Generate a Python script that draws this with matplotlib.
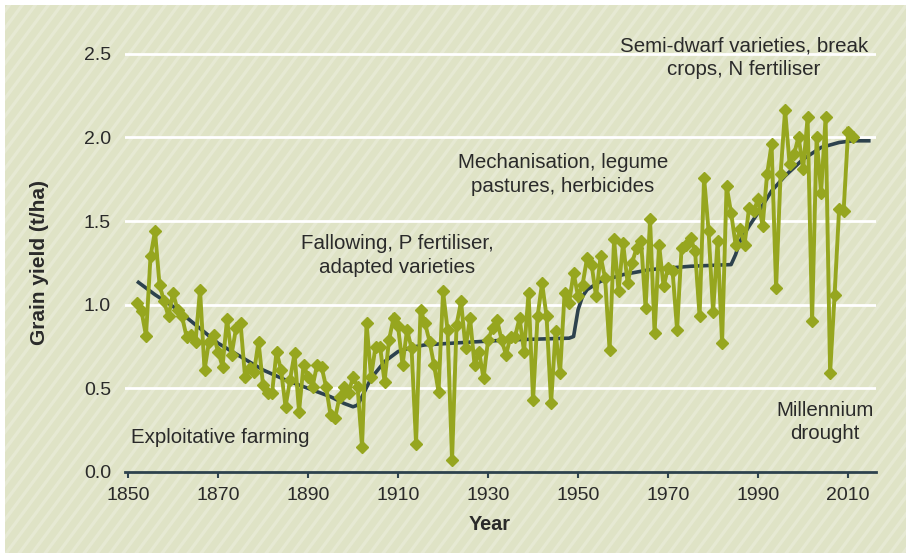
import matplotlib
matplotlib.use("Agg")
import matplotlib.pyplot as plt
from matplotlib.patches import Rectangle
from matplotlib.collections import LineCollection
import numpy as np

plt.rcParams['font.family'] = ['Liberation Sans', 'DejaVu Sans']

# ---------------- data ----------------
years = list(range(1852, 2012))
yield_t_ha = [
    1.01, 0.96, 0.815, 1.29, 1.44, 1.12, 1.02, 0.93, 1.07, 0.97,   # 1852-1861
    0.93, 0.81, 0.82, 0.78, 1.09, 0.61, 0.78, 0.82, 0.72, 0.63,    # 1862-1871
    0.915, 0.70, 0.86, 0.89, 0.57, 0.62, 0.60, 0.78, 0.52, 0.47,   # 1872-1881
    0.47, 0.72, 0.61, 0.39, 0.55, 0.71, 0.36, 0.64, 0.57, 0.51,    # 1882-1891
    0.64, 0.63, 0.51, 0.34, 0.32, 0.45, 0.51, 0.47, 0.57, 0.51,    # 1892-1901
    0.15, 0.89, 0.57, 0.75, 0.75, 0.54, 0.79, 0.92, 0.87, 0.64,    # 1902-1911
    0.85, 0.74, 0.17, 0.97, 0.89, 0.78, 0.64, 0.48, 1.08, 0.85,    # 1912-1921
    0.07, 0.88, 1.02, 0.74, 0.92, 0.64, 0.72, 0.56, 0.79, 0.86,    # 1922-1931
    0.91, 0.79, 0.70, 0.81, 0.81, 0.92, 0.72, 1.07, 0.43, 0.93,    # 1932-1941
    1.13, 0.93, 0.41, 0.84, 0.59, 1.07, 1.01, 1.19, 1.05, 1.12,    # 1942-1951
    1.28, 1.24, 1.05, 1.29, 1.16, 0.73, 1.39, 1.08, 1.37, 1.13,    # 1952-1961
    1.25, 1.34, 1.38, 0.98, 1.51, 0.83, 1.36, 1.11, 1.22, 1.20,    # 1962-1971
    0.85, 1.34, 1.36, 1.40, 1.32, 0.93, 1.76, 1.44, 0.955, 1.38,   # 1972-1981
    0.77, 1.71, 1.55, 1.36, 1.45, 1.36, 1.58, 1.56, 1.63, 1.47,    # 1982-1991
    1.78, 1.96, 1.10, 1.78, 2.165, 1.84, 1.90, 2.005, 1.81, 2.12,  # 1992-2001
    0.90, 2.00, 1.67, 2.12, 0.59, 1.06, 1.57, 1.56, 2.035, 2.00,   # 2002-2011
]

trend_years = [1852, 1856, 1860, 1865, 1870, 1875, 1880, 1885, 1890, 1895,
               1898, 1900, 1901, 1902, 1904, 1907, 1910, 1913, 1916, 1925,
               1935, 1948, 1949, 1950, 1951, 1952, 1955, 1960, 1966, 1975,
               1984, 1985, 1986, 1988, 1990, 1993, 1996, 2000, 2004, 2008,
               2011, 2015]
trend_vals = [1.14, 1.06, 0.99, 0.88, 0.77, 0.69, 0.61, 0.55, 0.50, 0.45,
              0.41, 0.39, 0.40, 0.45, 0.56, 0.66, 0.72, 0.745, 0.76, 0.775,
              0.79, 0.80, 0.81, 0.97, 1.05, 1.09, 1.14, 1.18, 1.21, 1.23,
              1.24, 1.30, 1.38, 1.47, 1.55, 1.68, 1.77, 1.87, 1.94, 1.97,
              1.98, 1.98]

x_ticks = [1850, 1870, 1890, 1910, 1930, 1950, 1970, 1990, 2010]
y_ticks = [0.0, 0.5, 1.0, 1.5, 2.0, 2.5]

annotations = [
    ("Exploitative farming", 1850.67, 0.209, 'left'),
    ("Fallowing, P fertiliser,\nadapted varieties", 1909.8, 1.293, 'center'),
    ("Mechanisation, legume\npastures, herbicides", 1946.6, 1.777, 'center'),
    ("Semi-dwarf varieties, break\ncrops, N fertiliser", 1986.9, 2.476, 'center'),
    ("Millennium\ndrought", 2004.8, 0.299, 'center'),
]

# ---------------- style ----------------
BG = '#dfe3c6'
STRIPE = '#e6e9d3'
GREEN = '#96a61f'
DARK = '#2d424d'
TEXT = '#2a2a2a'

W, H = 909, 556
fig = plt.figure(figsize=(W / 100, H / 100), dpi=100, facecolor='white')

# background panel with diagonal stripes
px0, py0, px1, py1 = 5, 3, 906, 551   # pixel box (x from left, y from bottom)
bg = Rectangle((px0 / W, py0 / H), (px1 - px0) / W, (py1 - py0) / H,
               transform=fig.transFigure, facecolor=BG, edgecolor='none', zorder=-3)
fig.add_artist(bg)
slope = 1.35
spacing = 13.0
segs = []
x = -H / slope
while x < W + 10:
    segs.append([((x) / W, 0), ((x + H / slope) / W, 1)])
    x += spacing
lc = LineCollection(segs, colors=STRIPE, linewidths=2.4, transform=fig.transFigure, zorder=-2)
lc.set_clip_path(bg)
fig.add_artist(lc)

ax = fig.add_axes([125 / W, 84 / H, 751 / W, 460 / H])
ax.set_facecolor('none')
ax.set_xlim(1849.33, 2016.2)
ax.set_ylim(0, 2.75)

for v in y_ticks[1:]:
    ax.axhline(v, color='white', lw=2.0, zorder=1)

ax.plot(trend_years, trend_vals, color=DARK, lw=2.6, zorder=3, solid_capstyle='butt')
ax.plot(years, yield_t_ha, color=GREEN, lw=2.8, marker='D', markersize=6.2,
        markeredgecolor=GREEN, markerfacecolor=GREEN, zorder=4, solid_joinstyle='miter')

for s in ['top', 'right', 'left']:
    ax.spines[s].set_visible(False)
ax.spines['bottom'].set_color(DARK)
ax.spines['bottom'].set_linewidth(2.0)

ax.set_xticks(x_ticks)
ax.set_xticklabels([str(t) for t in x_ticks])
ax.set_yticks(y_ticks)
ax.set_yticklabels([f"{t:.1f}" for t in y_ticks])
ax.tick_params(axis='x', direction='out', length=4, width=1.5, color=DARK,
               labelsize=14, labelcolor=TEXT, pad=7)
ax.tick_params(axis='y', length=0, labelsize=14, labelcolor=TEXT, pad=10)

fig.text(490 / W, 1 - 525 / H, "Year", ha='center', va='center',
         fontsize=14.3, fontweight='bold', color=TEXT)
fig.text(40 / W, 1 - 263 / H, "Grain yield (t/ha)", ha='center', va='center',
         rotation=90, fontsize=15, fontweight='bold', color=TEXT)

for txt, xv, yv, ha in annotations:
    ax.text(xv, yv, txt, ha=ha, va='center', fontsize=14.8, color=TEXT,
            linespacing=1.32, zorder=5)

fig.savefig('out.png', dpi=100, facecolor='white')
